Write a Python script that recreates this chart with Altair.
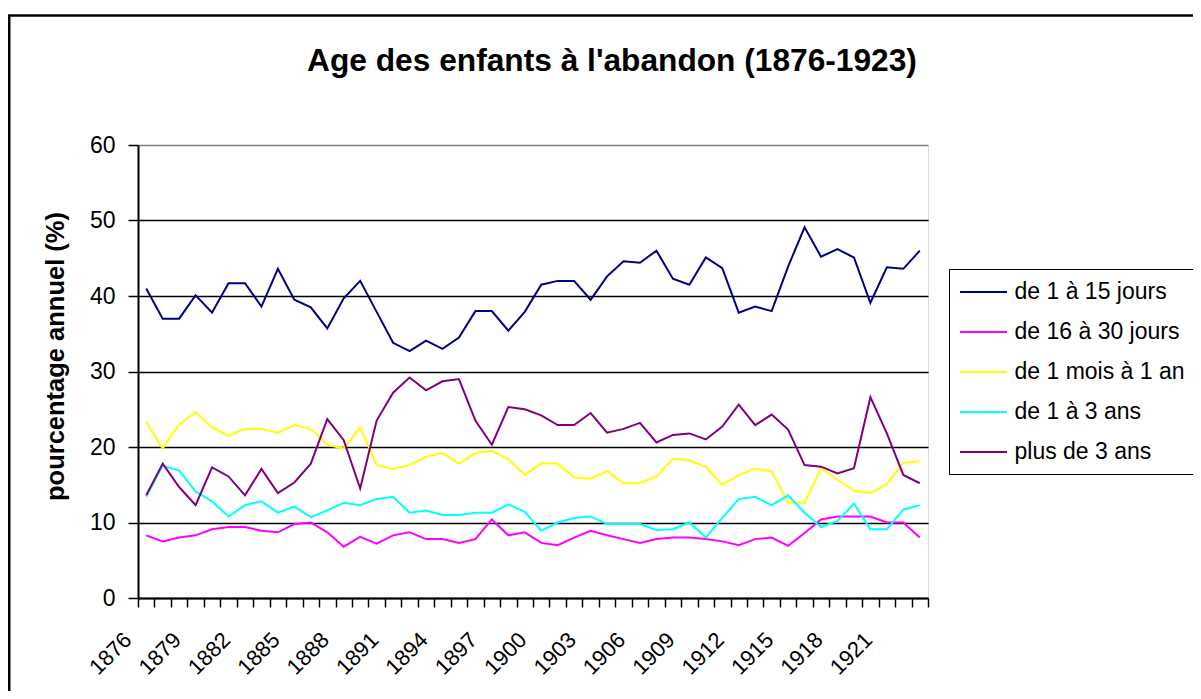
import altair as alt
import pandas as pd

years = list(range(1876, 1924))
series_names = ["de 1 à 15 jours", "de 16 à 30 jours", "de 1 mois à 1 an", "de 1 à 3 ans", "plus de 3 ans"]
series_colors = ["#000080", "#FF00FF", "#FFFF00", "#00FFFF", "#800080"]

de_1_a_15_jours = [41.0, 37.0, 37.0, 40.1, 37.8, 41.7, 41.7, 38.6, 43.6, 39.5, 38.5, 35.7, 39.7, 42.0, 37.9, 33.8,
                   32.7, 34.1, 33.0, 34.5, 38.0, 38.0, 35.4, 37.9, 41.5, 42.0, 42.0, 39.5, 42.6, 44.6, 44.4, 46.0,
                   42.3, 41.5, 45.1, 43.7, 37.8, 38.6, 38.0, 43.9, 49.1, 45.2, 46.2, 45.1, 39.1, 43.8, 43.6, 46.0]
de_16_a_30_jours = [8.3, 7.5, 8.0, 8.3, 9.1, 9.4, 9.4, 8.9, 8.7, 9.8, 10.0, 8.7, 6.8, 8.1, 7.2, 8.3,
                    8.7, 7.8, 7.8, 7.3, 7.8, 10.4, 8.3, 8.7, 7.3, 7.0, 8.0, 8.9, 8.3, 7.8, 7.3, 7.8,
                    8.0, 8.0, 7.8, 7.5, 7.0, 7.8, 8.0, 6.9, 8.6, 10.4, 10.8, 10.8, 10.8, 10.0, 10.0, 8.0]
de_1_mois_a_1_an = [23.3, 19.8, 23.0, 24.6, 22.6, 21.5, 22.4, 22.4, 21.9, 22.9, 22.4, 20.3, 19.8, 22.6, 17.6, 17.1,
                    17.6, 18.7, 19.2, 17.8, 19.2, 19.5, 18.4, 16.3, 17.8, 17.8, 16.0, 15.8, 16.8, 15.2, 15.2, 16.1,
                    18.4, 18.2, 17.4, 15.0, 16.3, 17.1, 16.8, 12.6, 12.6, 17.2, 15.7, 14.2, 13.9, 15.1, 17.9, 18.1]
de_1_a_3_ans = [13.4, 17.5, 16.9, 14.1, 12.8, 10.8, 12.3, 12.8, 11.3, 12.1, 10.7, 11.6, 12.6, 12.3, 13.1, 13.4,
                11.3, 11.6, 11.0, 11.0, 11.3, 11.3, 12.4, 11.4, 8.9, 10.0, 10.6, 10.8, 9.8, 9.8, 9.8, 9.0,
                9.1, 10.0, 8.0, 10.6, 13.1, 13.4, 12.3, 13.6, 11.3, 9.4, 10.2, 12.5, 9.1, 9.1, 11.7, 12.3]
plus_de_3_ans = [13.6, 17.8, 14.7, 12.3, 17.3, 16.1, 13.6, 17.1, 13.9, 15.3, 17.8, 23.7, 20.9, 14.5, 23.5, 27.2,
                 29.2, 27.5, 28.7, 29.0, 23.5, 20.3, 25.3, 25.0, 24.2, 22.9, 22.9, 24.5, 21.9, 22.4, 23.2, 20.6,
                 21.6, 21.8, 21.0, 22.7, 25.6, 22.9, 24.3, 22.3, 17.6, 17.4, 16.5, 17.2, 26.6, 21.8, 16.3, 15.2]

y_ticks = [0, 10, 20, 30, 40, 50, 60]
label_years = list(range(1876, 1922, 3))
boundaries = [1875.5 + k for k in range(49)]

rows = []
for name, vals in zip(series_names, [de_1_a_15_jours, de_16_a_30_jours, de_1_mois_a_1_an, de_1_a_3_ans, plus_de_3_ans]):
    for yr, v in zip(years, vals):
        rows.append({"annee": yr, "serie": name, "pct": v})
df = pd.DataFrame(rows)

FONT = "Liberation Sans"

lines = alt.Chart(df).mark_line(strokeWidth=2).encode(
    x=alt.X("annee:Q",
            scale=alt.Scale(domain=[1875.5, 1923.5], nice=False, zero=False),
            axis=alt.Axis(values=boundaries + label_years, title=None, grid=False,
                          labelExpr="(datum.value % 1 == 0 && (datum.value - 1876) % 3 == 0) ? format(datum.value, 'd') : ''",
                          tickOpacity={"condition": {"test": "datum.value % 1 == 0", "value": 0}, "value": 1},
                          tickSize=9, tickWidth=1.5, tickColor="black",
                          domainColor="black", domainWidth=2,
                          labelAngle=315, labelAlign="right", labelBaseline="middle",
                          labelOffset=-18.7, labelPadding=29,
                          labelFont=FONT, labelFontSize=22, labelColor="black",
                          labelOverlap=False, labelBound=False, labelFlush=False)),
    y=alt.Y("pct:Q",
            scale=alt.Scale(domain=[0, 60], nice=False),
            axis=alt.Axis(values=y_ticks, title="pourcentage annuel (%)", grid=True,
                          gridColor={"condition": {"test": "datum.value == 60", "value": "#808080"}, "value": "black"},
                          gridWidth=1.5,
                          tickSize=10, tickWidth=1.5, tickColor="black",
                          domainColor="black", domainWidth=2,
                          labelFont=FONT, labelFontSize=23, labelColor="black", labelPadding=13,
                          titleFont=FONT, titleFontSize=25.5, titleFontWeight="bold", titleColor="black",
                          titleAngle=270, titleX=-83, titleY=211, titleAlign="center", titleBaseline="middle")),
    color=alt.Color("serie:N",
                    scale=alt.Scale(domain=series_names, range=series_colors),
                    sort=series_names,
                    legend=alt.Legend(orient="none", legendX=811, legendY=124, title=None,
                                      symbolType="M-2,0H2", symbolSize=552, symbolStrokeWidth=2,
                                      symbolOffset=11.5, labelOffset=18, labelLimit=400,
                                      labelFont=FONT, labelFontSize=23, labelColor="black",
                                      rowPadding=15, padding=10,
                                      strokeColor="black", fillColor="white")),
    detail="serie:N",
)

frame = alt.Chart(pd.DataFrame({"k": [0]})).mark_rect(
    fill="white", fillOpacity=0, stroke="black", strokeWidth=2.5
).encode(
    x=alt.value(-128.75), x2=alt.value(1200),
    y=alt.value(-129.5), y2=alt.value(700),
)

chart = alt.layer(frame, lines).properties(
    width=790,
    height=453,
    autosize=alt.AutoSizeParams(type="none"),
    padding={"left": 130, "top": 137, "right": 265, "bottom": 93},
    title=alt.TitleParams("Age des enfants à l'abandon (1876-1923)", font=FONT, fontSize=31.7,
                          fontWeight="bold", color="black", anchor="middle", frame="group",
                          baseline="alphabetic", dx=79, dy=88.5, offset=0),
).configure_view(
    fill="#C0C0C0", stroke="#808080", strokeWidth=1.5
).configure(background="white")

chart.save("out.html", embed_options={"renderer": "svg", "actions": False})
